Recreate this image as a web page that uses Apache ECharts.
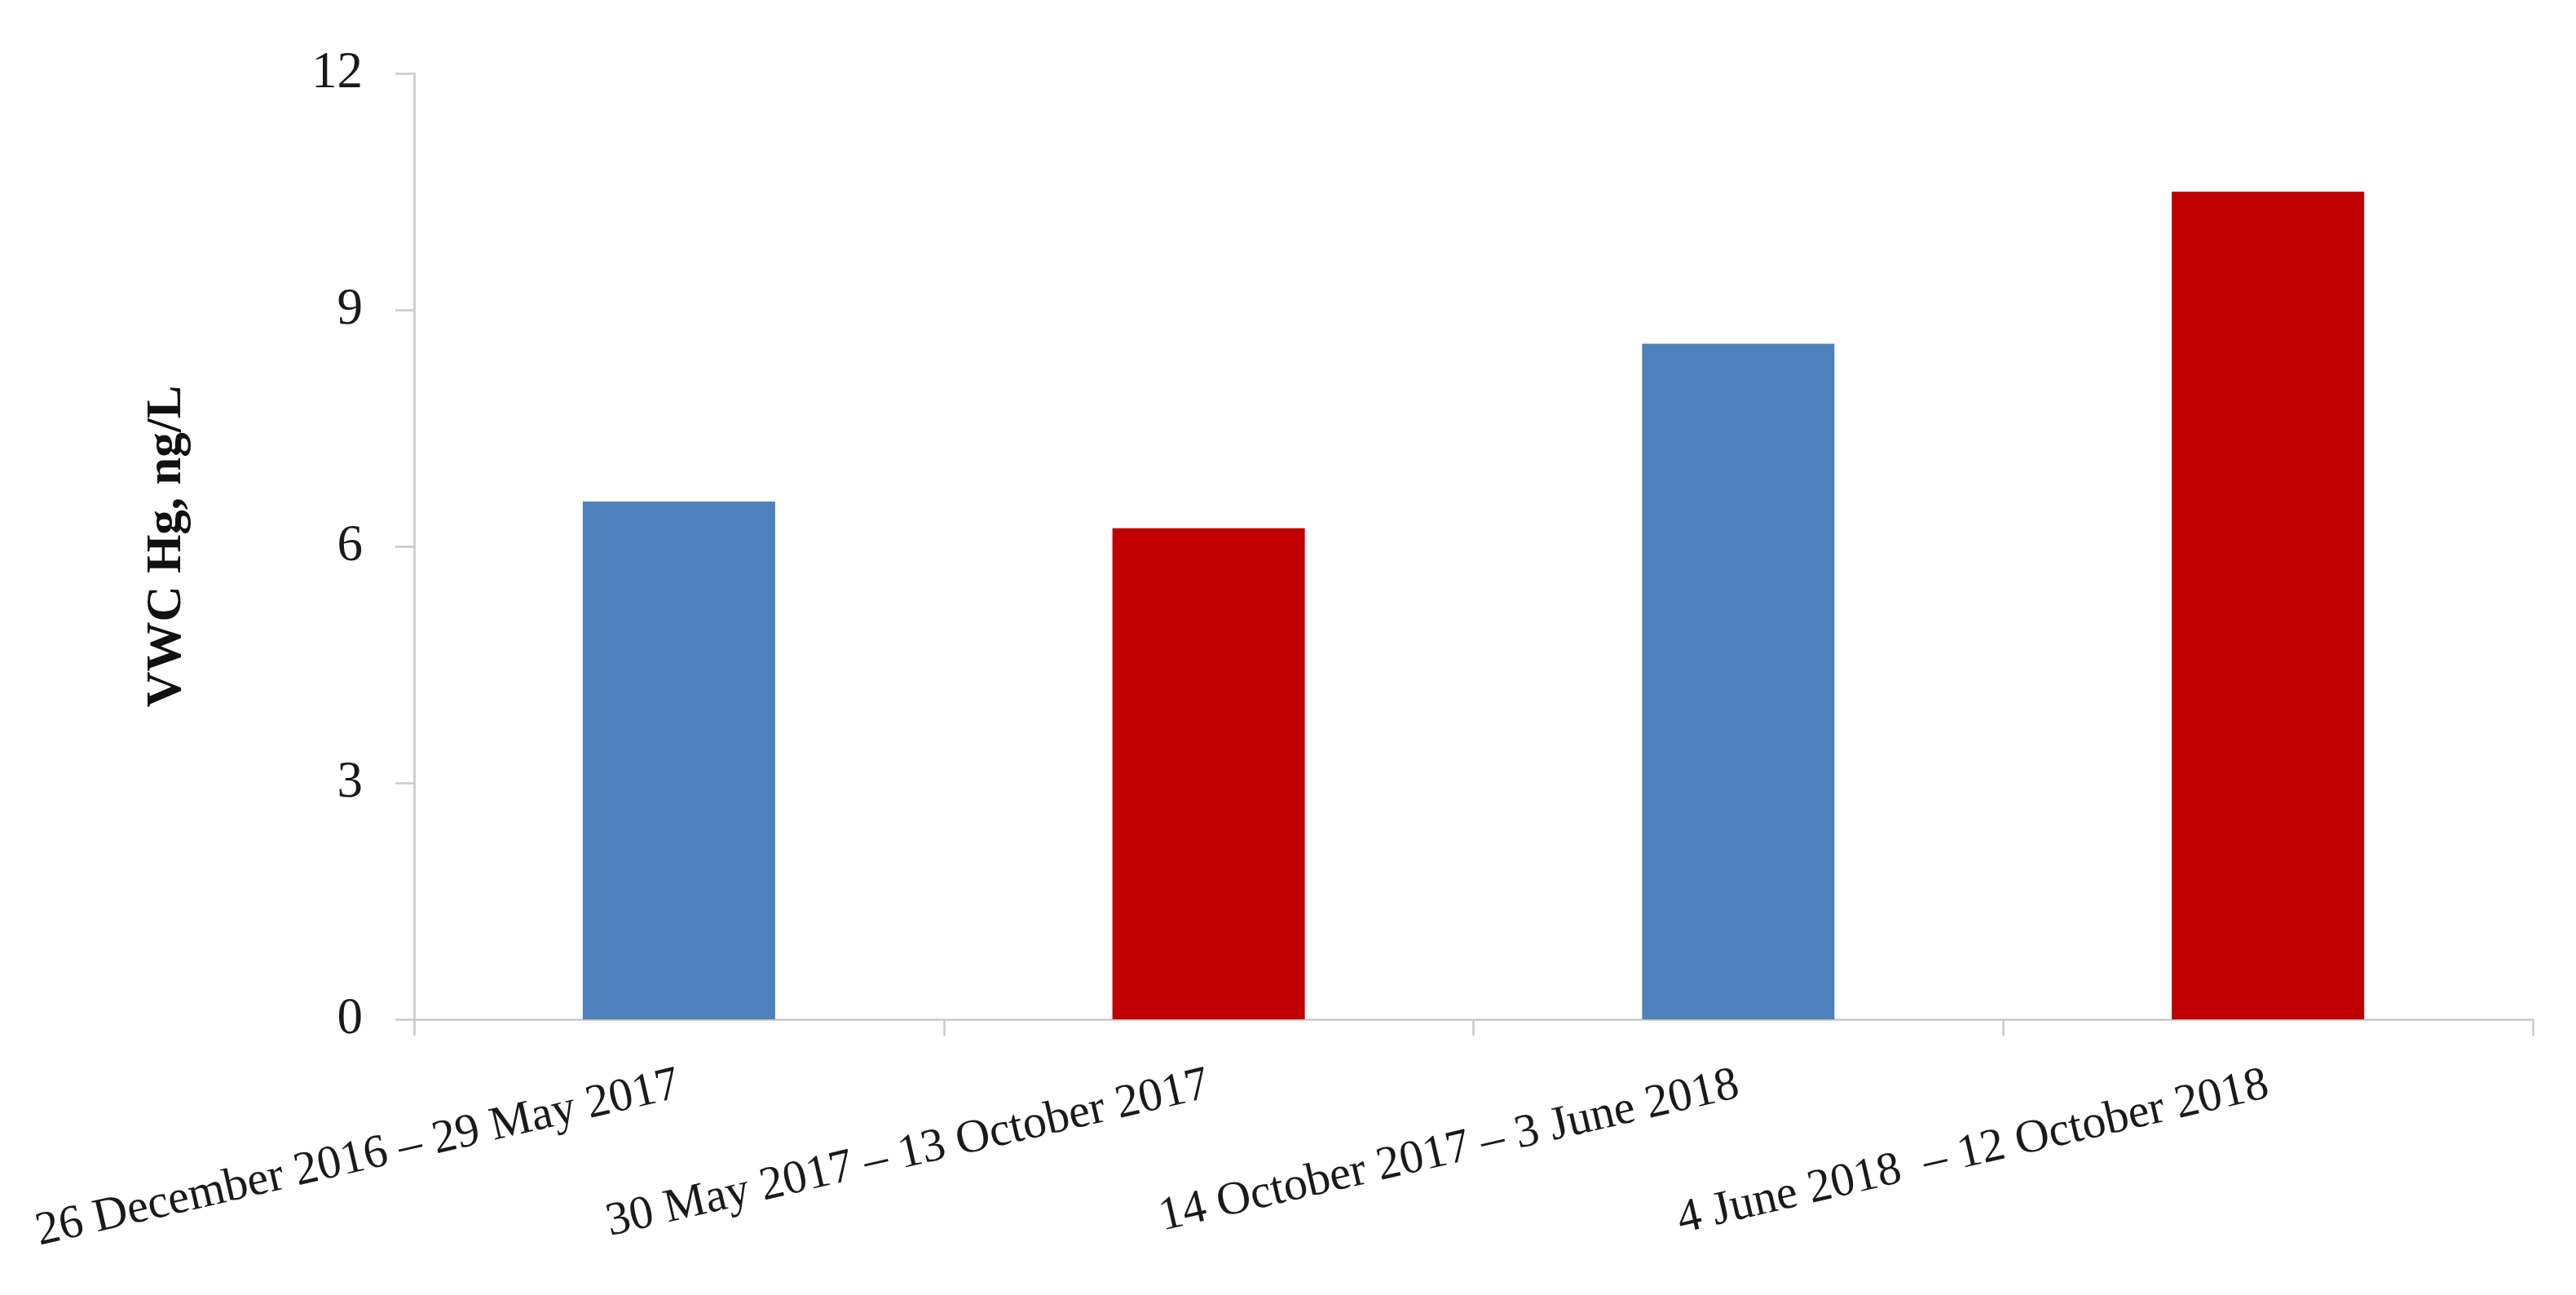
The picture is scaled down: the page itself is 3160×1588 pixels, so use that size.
<!DOCTYPE html>
<html>
<head>
<meta charset="utf-8">
<script src="https://cdn.jsdelivr.net/npm/echarts@6/dist/echarts.min.js"></script>
<style>
html,body{margin:0;padding:0;background:#fff;}
#chart{width:3160px;height:1588px;}
</style>
</head>
<body>
<div id="chart"></div>
<script>
// ---- data ----
const categories = [
  "26 December 2016 \u2013 29 May 2017",
  "30 May 2017 \u2013 13 October 2017",
  "14 October 2017 \u2013 3 June 2018",
  "4 June 2018  \u2013 12 October 2018"
];
const values = [6.57, 6.23, 8.57, 10.50];
const yTicks = [0, 3, 6, 9, 12];
const yAxisTitle = "VWC Hg, ng/L";

// ---- style ----
const barColors = ["#4F81BD", "#C00000", "#4F81BD", "#C00000"];
const FONT = "'Liberation Serif', 'Times New Roman', serif";
const axisGray = "#c9c9c9";

const chart = echarts.init(document.getElementById('chart'), null, {renderer: 'canvas'});
chart.setOption({
  backgroundColor: '#ffffff',
  animation: false,
  grid: {left: 508, right: 53, top: 90, bottom: 338, containLabel: false},
  xAxis: {
    type: 'category',
    data: categories,
    axisLine: {show: true, lineStyle: {color: axisGray, width: 2.5}},
    axisTick: {show: true, length: 20, alignWithLabel: false, lineStyle: {color: axisGray, width: 2.5}},
    axisLabel: {
      rotate: 13,
      margin: 80,
      interval: 0,
      color: '#1a1a1a',
      fontFamily: FONT,
      fontSize: 58
    },
    splitLine: {show: false}
  },
  yAxis: {
    type: 'value',
    min: yTicks[0],
    max: yTicks[yTicks.length - 1],
    interval: yTicks[1] - yTicks[0],
    name: yAxisTitle,
    nameLocation: 'middle',
    nameRotate: 90,
    nameGap: 272,
    nameTextStyle: {fontFamily: FONT, fontSize: 61, fontWeight: 'bold', color: '#111'},
    axisLine: {show: true, lineStyle: {color: axisGray, width: 2.5}},
    axisTick: {show: true, length: 23, lineStyle: {color: axisGray, width: 2.5}},
    axisLabel: {margin: 63, color: '#1a1a1a', fontFamily: FONT, fontSize: 63},
    splitLine: {show: false}
  },
  series: [{
    type: 'bar',
    barWidth: 236,
    data: values.map((v, i) => ({value: v, itemStyle: {color: barColors[i]}})),
    itemStyle: {borderWidth: 0}
  }]
});
</script>
</body>
</html>
